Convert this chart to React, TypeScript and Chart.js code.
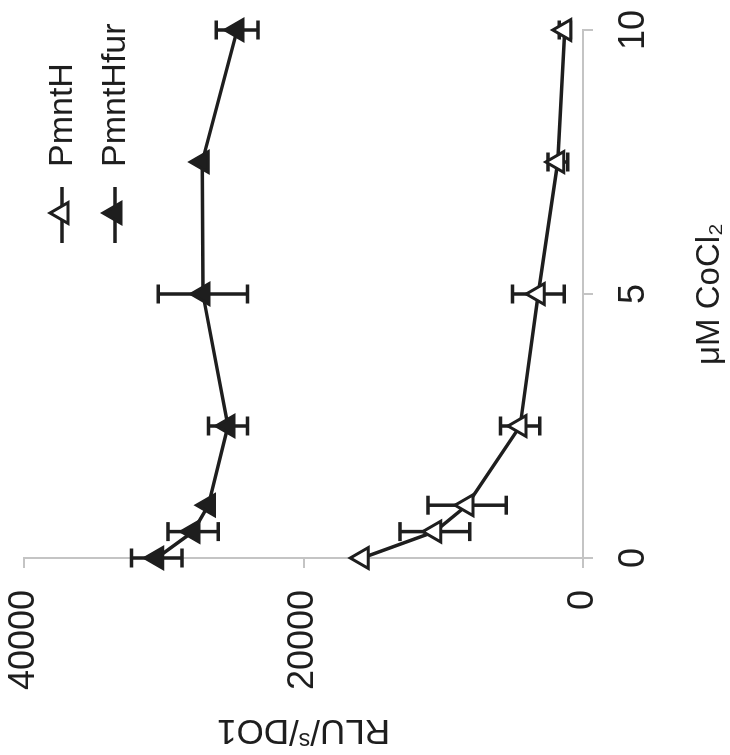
import React, { useEffect, useRef } from "react";
import { Chart, registerables } from "chart.js";

Chart.register(...registerables);

// ---- data ----
const cocl2 = [0, 0.5, 1, 2.5, 5, 7.5, 10];
const pmntH = [15800, 10600, 8300, 4500, 3200, 1800, 1300];
const pmntHErr = [0, 2500, 2800, 1400, 1850, 700, 400];
const pmntHfur = [30500, 27900, 26800, 25400, 27200, 27250, 24750];
const pmntHfurErr = [1800, 1800, 0, 1400, 3200, 0, 1500];
const seriesNames = ["PmntH", "PmntHfur"];
const xTickValues = [0, 5, 10];
const yTickValues = [0, 20000, 40000];
const xTitle = "μM CoCl₂";
const yTitleParts = ["RLU/", "s", "/DO1"];

const INK = "#1e1e1e";
const AXIS = "#c4c4c4";
const FONT = "'Liberation Sans', Arial, Helvetica, sans-serif";
const W = 755;
const H = 730;

const errors = [pmntHErr, pmntHfurErr];
const fills = ["#ffffff", INK];

function triangle(ctx: CanvasRenderingContext2D, x: number, y: number, r: number, fill: string) {
  ctx.beginPath();
  for (let k = 0; k < 3; k++) {
    const a = (k * 2 * Math.PI) / 3;
    const px = x + Math.sin(a) * r;
    const py = y - Math.cos(a) * r;
    if (k === 0) ctx.moveTo(px, py);
    else ctx.lineTo(px, py);
  }
  ctx.closePath();
  ctx.fillStyle = fill;
  ctx.fill();
  ctx.lineWidth = 3;
  ctx.strokeStyle = INK;
  ctx.stroke();
}

const errorBarPlugin = {
  id: "errorBars",
  beforeDatasetsDraw(chart: any) {
    const ctx = chart.ctx;
    const ys = chart.scales.y;
    chart.data.datasets.forEach((ds: any, i: number) => {
      const meta = chart.getDatasetMeta(i);
      meta.data.forEach((pt: any, j: number) => {
        const e = errors[i][j];
        if (!e) return;
        const v = ds.data[j].y;
        const y1 = ys.getPixelForValue(v - e);
        const y2 = ys.getPixelForValue(v + e);
        ctx.save();
        ctx.strokeStyle = INK;
        ctx.lineWidth = 3.5;
        ctx.beginPath();
        ctx.moveTo(pt.x, y1);
        ctx.lineTo(pt.x, y2);
        ctx.moveTo(pt.x - 9.5, y1);
        ctx.lineTo(pt.x + 9.5, y1);
        ctx.moveTo(pt.x - 9.5, y2);
        ctx.lineTo(pt.x + 9.5, y2);
        ctx.stroke();
        ctx.restore();
      });
    });
  },
};

const annotationPlugin = {
  id: "customLegendAndTitle",
  afterDraw(chart: any) {
    const ctx = chart.ctx;
    ctx.save();
    // legend
    seriesNames.forEach((name, i) => {
      const y = 62 + 53 * i;
      ctx.strokeStyle = INK;
      ctx.lineWidth = 3.5;
      ctx.beginPath();
      ctx.moveTo(512, y);
      ctx.lineTo(568, y);
      ctx.stroke();
      triangle(ctx, 542, y, 12, fills[i]);
      ctx.fillStyle = INK;
      ctx.font = `34px ${FONT}`;
      ctx.textAlign = "left";
      ctx.textBaseline = "middle";
      ctx.fillText(name, 588, y + 1);
    });
    // y-axis title with raised small "s"
    const area = chart.chartArea;
    const cy = (area.top + area.bottom) / 2;
    ctx.translate(35, cy);
    ctx.rotate(-Math.PI / 2);
    ctx.textBaseline = "alphabetic";
    ctx.textAlign = "left";
    const big = `35px ${FONT}`;
    const small = `23px ${FONT}`;
    ctx.font = big;
    const w0 = ctx.measureText(yTitleParts[0]).width;
    const w2 = ctx.measureText(yTitleParts[2]).width;
    ctx.font = small;
    const w1 = ctx.measureText(yTitleParts[1]).width;
    let x = -(w0 + w1 + w2) / 2;
    ctx.fillStyle = INK;
    ctx.font = big;
    ctx.fillText(yTitleParts[0], x, 0);
    x += w0;
    ctx.font = small;
    ctx.fillText(yTitleParts[1], x, -13);
    x += w1;
    ctx.font = big;
    ctx.fillText(yTitleParts[2], x, 0);
    ctx.restore();
  },
};

export default function App() {
  const ref = useRef<HTMLCanvasElement | null>(null);

  useEffect(() => {
    if (!ref.current) return;
    const mk = (vals: number[]) => vals.map((v, i) => ({ x: cocl2[i], y: v }));
    const chart = new Chart(ref.current, {
      type: "line",
      data: {
        datasets: [
          {
            label: seriesNames[0],
            data: mk(pmntH),
            borderColor: INK,
            borderWidth: 3.5,
            pointStyle: "triangle",
            pointRadius: 12,
            pointBorderWidth: 3,
            pointBackgroundColor: "#ffffff",
            pointBorderColor: INK,
            tension: 0,
            clip: false,
          },
          {
            label: seriesNames[1],
            data: mk(pmntHfur),
            borderColor: INK,
            borderWidth: 3.5,
            pointStyle: "triangle",
            pointRadius: 12,
            pointBorderWidth: 3,
            pointBackgroundColor: INK,
            pointBorderColor: INK,
            tension: 0,
            clip: false,
          },
        ],
      },
      options: {
        responsive: false,
        animation: false,
        devicePixelRatio: 1,
        layout: { padding: { top: 24, right: 30, bottom: 0, left: 0 } },
        plugins: {
          legend: { display: false },
          tooltip: { enabled: false },
        },
        scales: {
          x: {
            type: "linear",
            min: 0,
            max: 10,
            afterBuildTicks: (s: any) => {
              s.ticks = xTickValues.map((v) => ({ value: v }));
            },
            afterFit: (s: any) => {
              s.height = H - 583;
              s.paddingLeft = 0;
              s.paddingRight = 0;
            },
            grid: { drawOnChartArea: false, drawTicks: true, tickLength: 10, color: AXIS, lineWidth: 2 },
            border: { display: true, color: AXIS, width: 2 },
            ticks: {
              color: INK,
              font: { family: FONT, size: 36 },
              padding: 19,
              maxRotation: 0,
              callback: (v: any) => String(v),
            },
            title: {
              display: true,
              text: xTitle,
              color: INK,
              font: { family: FONT, size: 33 },
              padding: { top: 0, bottom: 0 },
            },
          },
          y: {
            type: "linear",
            min: 0,
            max: 40000,
            afterBuildTicks: (s: any) => {
              s.ticks = yTickValues.map((v) => ({ value: v }));
            },
            afterFit: (s: any) => {
              s.width = 197;
              s.paddingTop = 0;
              s.paddingBottom = 0;
            },
            grid: { drawOnChartArea: false, drawTicks: true, tickLength: 10, color: AXIS, lineWidth: 2 },
            border: { display: true, color: AXIS, width: 2 },
            ticks: {
              color: INK,
              font: { family: FONT, size: 36 },
              padding: 22,
              callback: (v: any) => String(v),
            },
            title: { display: false },
          },
        },
      },
      plugins: [errorBarPlugin, annotationPlugin],
    });
    return () => chart.destroy();
  }, []);

  return (
    <div style={{ position: "fixed", left: 0, top: 0, width: 730, height: 755, overflow: "hidden", background: "#fff" }}>
      <div
        style={{
          position: "absolute",
          left: 0,
          top: 0,
          width: W,
          height: H,
          transformOrigin: "0 0",
          transform: `translate(0px, ${W}px) rotate(-90deg)`,
        }}
      >
        <canvas ref={ref} width={W} height={H} style={{ width: W, height: H, display: "block" }} />
      </div>
    </div>
  );
}
